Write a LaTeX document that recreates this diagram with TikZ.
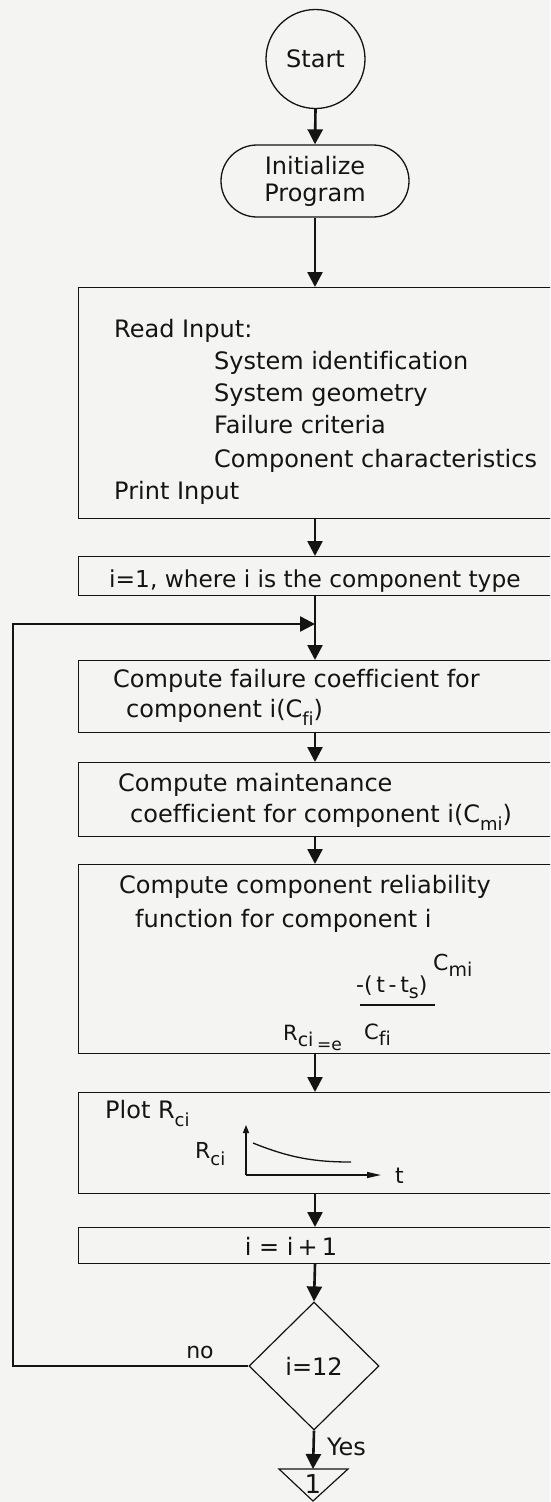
\documentclass[tikz,border=0pt]{standalone}
\usepackage{fontspec}
\setmainfont{DejaVu Sans}[Ligatures=CommonOff]
\usetikzlibrary{arrows.meta,shapes.geometric,shapes.misc}
\definecolor{paper}{RGB}{244,244,242}
\definecolor{ink}{RGB}{20,20,20}
\newcommand\sbs[1]{\raisebox{-0.35em}{\fontsize{18}{18}\selectfont #1}}
\newcommand\fsb[1]{\raisebox{-0.3em}{\fontsize{19}{19}\selectfont #1}}
\begin{document}
\begin{tikzpicture}[x=1pt,y=-1pt,
  every node/.style={font=\fontsize{24}{32}\selectfont, text=ink},
  box/.style={draw=ink, line width=1.2pt, rectangle, anchor=north west, inner sep=0, minimum width=490pt},
  conn/.style={draw=ink, line width=2.6pt, -{Triangle[width=15pt,length=15pt]}},
  txt/.style={anchor=base west, inner sep=0},
  fml/.style={anchor=base west, inner sep=0, font=\fontsize{22}{22}\selectfont},
]
\fill[paper] (0,0) rectangle (550,1502);
\clip (0,0) rectangle (550,1502);
\coordinate (ax) at (315,0);

% nodes
\node[circle, draw=ink, line width=1.3pt, minimum size=99pt, inner sep=0] (start) at (315.5,59) {Start};
\node[rounded rectangle, draw=ink, line width=1.3pt, minimum width=188pt, minimum height=72pt, inner sep=0, align=center, font=\fontsize{24}{27}\selectfont] (init) at (315,181) {Initialize\\Program};
\node[box, minimum height=231pt] (read) at (78,287) {};
\node[box, minimum height=39pt] (ione) at (78,556) {};
\node[box, minimum height=72pt] (fail) at (78,660) {};
\node[box, minimum height=74pt] (maint) at (78,762) {};
\node[box, minimum height=189pt] (rel) at (78,864) {};
\node[box, minimum height=101pt] (plot) at (78,1092) {};
\node[box, minimum height=36pt] (inc) at (78,1227) {};
\node[diamond, draw=ink, line width=1.2pt, minimum width=130pt, minimum height=128pt, inner sep=0] (dec) at (314,1366) {i=12};
\coordinate (tri) at (313,1469);
\coordinate (lp) at (13,624);

% texts
\node[txt] at (114,337) {Read Input:};
\node[txt] at (214,369) {System identification};
\node[txt] at (214,401) {System geometry};
\node[txt] at (214,433) {Failure criteria};
\node[txt] at (214,467) {Component characteristics};
\node[txt] at (114,499) {Print Input};
\node[txt, font=\fontsize{23.3}{32}\selectfont] at (109,587) {i=1, where i is the component type};
\node[txt] at (113,687) {Compute failure coefficient for};
\node[txt] at (126,717) {component i(C\sbs{fi})};
\node[txt] at (118,791) {Compute maintenance};
\node[txt] at (130,822) {coefficient for component i(C\sbs{mi})};
\node[txt] at (119,893) {Compute component reliability};
\node[txt] at (135,927) {function for component i};
\node[fml, font=\fontsize{21}{21}\selectfont] at (283,1040) {R\fsb{ci}};
\node[fml, font=\fontsize{17}{17}\selectfont] at (317,1050) {=e};
\node[fml] at (356,992) {-(\,t\,-\,t\fsb{s})};
\draw[ink, line width=1.5pt] (360,1005) -- (435,1005);
\node[fml] at (433,970) {C\fsb{mi}};
\node[fml, font=\fontsize{21}{21}\selectfont] at (364,1039) {C\fsb{fi}};
\node[txt] at (105,1118) {Plot R\sbs{ci}};
\node[txt, font=\fontsize{22}{22}\selectfont] at (195,1158) {R\sbs{ci}};
\node[txt, font=\fontsize{22}{22}\selectfont] at (395,1183) {t};
\draw[ink, line width=1.3pt, -{Triangle[width=6pt,length=8pt]}] (246,1175) -- (246,1125);
\draw[ink, line width=1.3pt, -{Triangle[width=6pt,length=14pt]}] (246,1175) -- (381,1175);
\draw[ink, line width=1.3pt] (253,1143) .. controls (290,1158) and (315,1162) .. (351,1162);
\node at (291,1246) {i = i\,+\,1};
\node[font=\fontsize{22}{22}\selectfont] at (200,1352) {no};
\node[anchor=west, inner sep=0] at (327,1447) {Yes};
\draw[ink, line width=1.2pt] (279,1469) -- (348,1469) -- (313,1501) -- cycle;
\node[font=\fontsize{26}{26}\selectfont, inner sep=0] at (313,1484) {1};

% connectors
\draw[conn] (start.south) -- (init.north);
\draw[conn] (init.south) -- (init.south |- read.north);
\draw[conn] (ax |- read.south) -- (ax |- ione.north);
\draw[conn] (ax |- ione.south) -- (ax |- fail.north);
\draw[conn] (ax |- fail.south) -- (ax |- maint.north);
\draw[conn] (ax |- maint.south) -- (ax |- rel.north);
\draw[conn] (ax |- rel.south) -- (ax |- plot.north);
\draw[conn] (ax |- plot.south) -- (ax |- inc.north);
\draw[conn] (ax |- inc.south) -- (dec.north);
\draw[conn] (dec.south) -- (tri);
\draw[conn] (dec.west) -| (lp) -- (ax |- lp);
\end{tikzpicture}
\end{document}
